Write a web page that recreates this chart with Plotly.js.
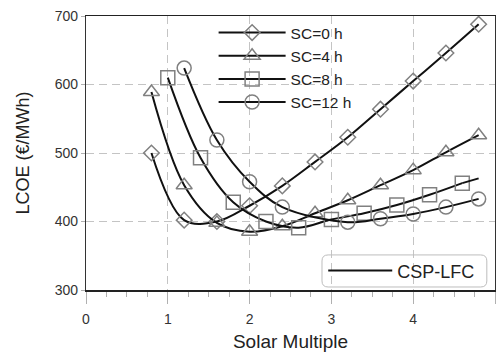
<!DOCTYPE html>
<html>
<head>
<meta charset="utf-8">
<script src="https://cdn.plot.ly/plotly-3.0.1.min.js"></script>
<style>html,body{margin:0;padding:0;background:#fff;}#chart{width:497px;height:356px;}</style>
</head>
<body>
<div id="chart"></div>
<script>
// Series data
const seriesNames = ["SC=0 h", "SC=4 h", "SC=8 h", "SC=12 h"];
const sc0X = [0.8, 1.2, 1.6, 2.0, 2.4, 2.8, 3.2, 3.6, 4.0, 4.4, 4.8];
const sc0Y = [500, 402, 400, 423, 452, 487, 523, 564, 605, 646, 688];
const sc4X = [0.8, 1.2, 1.6, 2.0, 2.4, 2.8, 3.2, 3.6, 4.0, 4.4, 4.8];
const sc4Y = [589, 453, 398, 385, 393, 412, 431, 453, 475, 501, 526];
const sc8X = [1.0, 1.4, 1.8, 2.2, 2.6, 3.0, 3.4, 3.8, 4.2, 4.6];
const sc8Y = [610, 493, 428, 400, 391, 403, 412, 424, 439, 456];
const sc8TailX = [4.6, 4.8];
const sc8TailY = [456, 463];
const sc12X = [1.2, 1.6, 2.0, 2.4, 3.2, 3.6, 4.0, 4.4, 4.8];
const sc12Y = [624, 519, 458, 421, 399, 404, 411, 421, 433];
const symbols = ["diamond-open", "triangle-up-open", "square-open", "circle-open"];
const markerSizes = [12, 14, 14, 14];
const modelName = "CSP-LFC";
const xTicks = [0, 1, 2, 3, 4, 5];
const yTicks = [300, 400, 500, 600, 700];

const xs = [sc0X, sc4X, sc8X, sc12X];
const ys = [sc0Y, sc4Y, sc8Y, sc12Y];
const traces = xs.map((x, i) => ({
  x: x, y: ys[i], name: seriesNames[i], type: "scatter", mode: "lines+markers",
  line: {color: "#111", width: 2, shape: "spline", smoothing: 1},
  marker: {symbol: symbols[i], size: markerSizes[i], color: "#808080", line: {width: 1.5, color: "#808080"}},
  legend: "legend"
}));
traces.push({x: sc8TailX, y: sc8TailY, type: "scatter", mode: "lines", showlegend: false,
  line: {color: "#111", width: 2}, hoverinfo: "skip"});
traces.push({x: [null], y: [null], name: modelName, type: "scatter", mode: "lines",
  line: {color: "#111", width: 2}, legend: "legend2"});

const font = {family: "Liberation Sans, Arial, sans-serif", color: "#222"};
const x0 = 0.577, x1 = 0.980, y0 = 0.011, y1 = 0.128, rx = 0.015, ry = 0.022;
const boxPath = `M${x0+rx},${y0} L${x1-rx},${y0} Q${x1},${y0} ${x1},${y0+ry} L${x1},${y1-ry} Q${x1},${y1} ${x1-rx},${y1} L${x0+rx},${y1} Q${x0},${y1} ${x0},${y1-ry} L${x0},${y0+ry} Q${x0},${y0} ${x0+rx},${y0} Z`;

const layout = {
  width: 497, height: 356,
  margin: {l: 86, r: 2, t: 16, b: 66},
  paper_bgcolor: "#fff", plot_bgcolor: "#fff",
  font: font,
  showlegend: true,
  xaxis: {
    range: [0, 5], tickvals: xTicks, ticktext: xTicks.map(String),
    showgrid: true, gridcolor: "#c4c4c4", griddash: "8px,5px", gridwidth: 1,
    zeroline: false, showline: true, linecolor: "#222", linewidth: 1.5, mirror: true,
    ticks: "outside", ticklen: 12, tickcolor: "#b0b0b0", tickwidth: 1,
    minor: {dtick: 0.25, ticks: "outside", ticklen: 5, tickcolor: "#b0b0b0", showgrid: false},
    tickfont: {size: 14, color: "#333"}, ticklabelstandoff: 4,
    title: {text: "Solar Multiple", font: {size: 19, color: "#222"}, standoff: 8}
  },
  yaxis: {
    range: [300, 700], tickvals: yTicks, ticktext: yTicks.map(String),
    showgrid: true, gridcolor: "#c4c4c4", griddash: "8px,5px", gridwidth: 1,
    zeroline: false, showline: true, linecolor: "#333", linewidth: 1.2, mirror: true,
    ticks: "outside", ticklen: 4, tickcolor: "#b0b0b0",
    tickfont: {size: 14, color: "#333"},
    title: {text: "LCOE (€/MWh)", font: {size: 18, color: "#222"}, standoff: 20}
  },
  legend: {
    x: 0.312, y: 1.0, xanchor: "left", yanchor: "top",
    bgcolor: "rgba(0,0,0,0)", borderwidth: 0, itemwidth: 67,
    font: {size: 15.5, color: "#222"}
  },
  legend2: {
    x: 0.58, y: 0.07, xanchor: "left", yanchor: "middle",
    bgcolor: "rgba(0,0,0,0)", borderwidth: 0, itemwidth: 64,
    font: {size: 18, color: "#222"}
  },
  shapes: [{type: "path", xref: "paper", yref: "paper", path: boxPath,
    line: {color: "#bdbdbd", width: 1}, fillcolor: "rgba(0,0,0,0)", layer: "above"}]
};
Plotly.newPlot("chart", traces, layout, {displayModeBar: false, staticPlot: true});
</script>
</body>
</html>
